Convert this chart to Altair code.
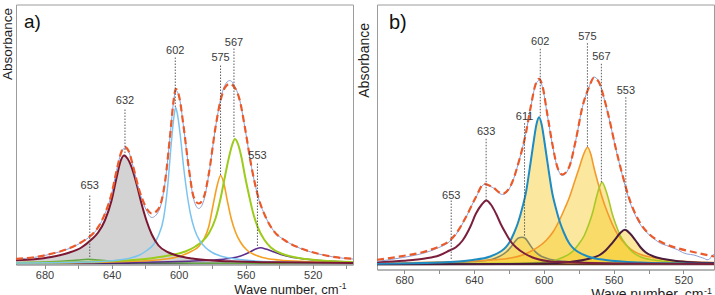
import altair as alt
import pandas as pd

FONT = "Liberation Sans"

# ---------------- panel a) ----------------
A_X_DOMAIN = [697, 496]
A_Y_DOMAIN = [-1, 259]
A_TICKS = [680, 660, 640, 620, 600, 580, 560, 540, 520, 500]

A_WN = [697, 686, 676, 666, 658, 654, 648, 644, 640, 637,
        634, 632, 630, 627, 624, 620, 616, 612, 608, 605,
        603, 601.7, 599.6, 597, 594, 591, 588, 585, 582, 578,
        575, 572.5, 569.5, 566.5, 563.5, 560.5, 556.5, 552.5, 548.5, 543.5,
        536.5, 526.5, 516.5, 506.5, 496]
A_FIT = [4.7, 6.3, 9.7, 14.7, 21.3, 25.7, 36.3, 49.7, 69.7, 93,
         112.3, 116.3, 113, 96.3, 76.3, 58, 50, 54.7, 83, 129.7,
         163, 174.7, 166.3, 136.3, 96.3, 66.3, 60, 66.3, 89.7, 136.3,
         163, 175.7, 179.7, 175.7, 163, 136.3, 96.3, 66.3, 48, 33,
         23, 14.7, 9.7, 6.3, 4.7]
A_MEAS = [4.5, 6.1, 9.5, 14.5, 21, 25.5, 36, 49.5, 69.5, 93,
          112, 115.5, 112.5, 96, 75.5, 56, 46, 52, 82, 129,
          162, 173, 166, 136, 96, 64, 55, 63, 89, 136,
          164, 178, 183, 177, 163, 136, 96, 66, 48, 33,
          23, 14.5, 9.5, 6.2, 4.5]

A_653_WN = [697, 680, 668, 660, 654, 648, 640, 630, 615, 590, 550, 496]
A_653 = [0.8, 1.5, 2.5, 3.6, 4.3, 3.6, 2.3, 1.3, 0.7, 0.3, 0.1, 0.0]

A_632_WN = [697, 686, 676, 666, 658, 652, 648, 644, 640, 637, 634.5, 632.5, 630.5,
            628, 625, 622, 619, 616, 612, 606, 600, 592, 580, 565, 540, 496]
A_632 = [3.2, 4.3, 6.5, 10.5, 16, 24, 31, 43, 63, 86, 103, 108, 105,
         96, 79, 59, 42, 29, 18, 11, 7.5, 5, 3, 2, 1.2, 0.5]

A_602_WN = [697, 660, 640, 630, 624, 619, 615, 612, 609, 606.5, 604.5, 602.7, 601.8, 600.8,
            599, 597, 595, 593, 590.5, 587.5, 584, 580, 574, 566, 550, 530, 496]
A_602 = [0.5, 1.2, 2.8, 5, 8, 13, 19, 28, 45, 78, 118, 148, 156, 150,
         128, 96, 70, 50, 34, 23, 16, 11, 7, 4.5, 2, 1, 0.5]

A_575_WN = [697, 640, 610, 598, 592, 588, 585, 582, 579.5, 577, 575, 573, 571, 568.5,
            566, 563, 559, 555, 550, 540, 525, 496]
A_575 = [0.3, 1.5, 4, 8, 12.5, 17, 24, 37, 58, 78, 88, 80, 63, 44,
         31, 21, 13, 9, 6, 3.5, 2, 1]

A_567_WN = [697, 640, 620, 606, 596, 590, 586, 582, 578, 575, 572.5, 570, 568, 566.4,
            564.5, 562.5, 560.5, 558, 555.5, 552.5, 549, 545, 538, 530, 515, 496]
A_567 = [0.5, 2.5, 4.5, 8, 12, 17, 22, 30, 45, 65, 86, 106, 119, 124.5,
         119, 106, 88, 68, 50, 35, 24, 16, 9.5, 6, 3, 1.5]

A_553_WN = [697, 640, 600, 580, 570, 563, 558, 554, 551, 548, 544, 539, 533, 525, 512, 496]
A_553 = [0.3, 1, 2, 3.5, 5, 7.5, 11, 14.5, 15.7, 14.5, 12, 9, 6.5, 4.5, 2.5, 1.5]

A_PEAK_WN = [653, 632, 602, 575, 567, 553]
A_PEAK_TEXT_H = [78, 163, 213, 206, 221, 108]
A_PEAK_TOP = [68, 154, 206, 198, 215, 100]
A_PEAK_BOTTOM = [5, 108, 156, 88, 125, 16]

# ---------------- panel b) ----------------
B_X_DOMAIN = [695.5, 502.5]
B_Y_DOMAIN = [-5, 260]
B_TICKS = [680, 660, 640, 620, 600, 580, 560, 540, 520]

B_FIT_WN = [695.5, 679, 669.5, 660, 655, 650.3, 644.6, 638.9, 634.1, 629.3,
            623.6, 618.9, 614.1, 610.3, 607.5, 604.6, 602.7, 600.8, 598, 595.1,
            592.2, 589.4, 585.5, 581.7, 577.9, 574.1, 571.3, 568.4, 565.6, 562.7,
            558.9, 555.1, 551.3, 545.6, 539.8, 532.2, 522.7, 513.1, 502.5]
B_FIT = [4.7, 9, 12.3, 18, 22.3, 30.7, 47.3, 67.3, 80.7, 77.3,
         70.7, 79, 104, 130.7, 157.3, 180.7, 185.7, 179, 150.7, 120.7,
         97.3, 90, 97.3, 124, 157.3, 177.3, 186.7, 182.3, 167.3, 147.3,
         117.3, 90.7, 67.3, 44, 30.7, 22, 16, 12, 8]

B_MEAS_WN = [695.5, 679, 669.5, 660, 655, 650.3, 644.6, 638.9, 634.1, 629.3,
             623.6, 618.9, 614.1, 610.3, 607.5, 604.6, 602.7, 600.8, 598, 595.1,
             592.2, 589.4, 585.5, 581.7, 577.9, 574.1, 571.3, 568.4, 565.6, 562.7,
             558.9, 555.1, 551.3, 545.6, 541, 537, 533, 529.6, 526, 523.6,
             520.5, 517.9, 514, 510.3, 508, 506.5, 505, 503.6, 502.5]
B_MEAS = [3, 7.5, 11, 17, 21.5, 30, 47, 67, 80, 77,
          70, 78.5, 104, 131, 157, 180, 184, 178, 150, 120,
          97, 89, 97, 124, 157, 177.5, 187.5, 183, 167, 147,
          117, 90, 66, 42.5, 32, 26, 21, 19, 16.5, 15,
          12, 10.5, 9.5, 7.3, 6, 4.7, 5.5, 9, 10]

B_633_WN = [695.5, 680, 668, 660, 654, 650.3, 646.5, 642, 638.9, 635.5, 632.9, 630.3,
            627.3, 624.5, 621.6, 618.5, 615.9, 611, 606.4, 598, 585, 560, 502.5]
B_633 = [2.5, 3.8, 6, 9, 14, 17.3, 24, 38, 50.7, 60, 64, 60,
         50.7, 40, 30.7, 22, 17.3, 11, 7, 3.5, 2, 1, 0.5]

B_611_WN = [695.5, 660, 640, 630, 625.5, 621.5, 619, 616.5, 614.5, 612.5, 610.5,
            608.4, 606, 603, 598, 590, 575, 550, 502.5]
B_611 = [0.5, 1.5, 3, 5, 8, 12.5, 17, 23, 26.5, 27.3, 26,
         21, 15, 10, 6, 3.5, 2, 1, 0.5]

B_602_WN = [695.5, 660.7, 640.7, 630.7, 624.7, 621.7, 619.7, 616.9, 614.7, 612.2,
            610.2, 608.5, 607.2, 605.7, 604.2, 602.7, 601.2, 599.7, 598.2, 596.9,
            595.2, 593.2, 590.7, 588.5, 585.7, 583.7, 580.7, 574.7, 564.7, 544.7,
            510.7, 502.5]
B_602 = [0.8, 2, 4.5, 8, 13, 17.3, 22, 32, 42, 57.3,
         72, 90.7, 106, 124, 140, 147.3, 140, 124, 106, 90.7,
         72, 57.3, 42, 32, 22, 17.3, 13, 8, 4.5, 2,
         0.8, 0.7]

B_575_WN = [695.5, 660, 640, 621.6, 608.4, 598.7, 594.5, 591.1, 588, 585.3,
            582.5, 579.6, 577.2, 574.9, 573, 571.3, 569, 566.6, 563.5, 560.8,
            558, 555.1, 550, 545.6, 536, 526.6, 515, 502.5]
B_575 = [1, 2.5, 3.5, 5.7, 12.3, 24, 33, 44, 56, 67.3,
         82, 97.3, 110, 117.3, 110, 97.3, 82, 67.3, 52, 40.7,
         31, 24, 15, 10.7, 6.5, 4, 2.8, 2]

B_567_WN = [695.5, 620, 600, 589.3, 583.5, 579.8, 576.8, 574.1, 572, 570.3, 568.4, 566.6,
            564.8, 562.7, 561, 558.9, 556.2, 553.2, 549.5, 543.7, 535, 526.6, 502.5]
B_567 = [0.3, 1.2, 2.3, 7, 13, 20.7, 29, 40.7, 52, 64, 76, 82.3,
         76, 64, 52, 40.7, 29, 20.7, 13, 7, 4, 2.3, 1]

B_553_WN = [695.5, 620, 600, 585, 574.1, 568, 564.6, 561.5, 558.9, 556.2, 553.5,
            550.6, 547.4, 544.5, 541.7, 537, 532.2, 525, 515, 502.5]
B_553 = [0.2, 0.6, 1, 2.5, 5.7, 9.5, 14, 20, 25.7, 31.5, 34.7,
         31, 24, 17, 12.3, 8, 5.7, 3.8, 2.3, 1.5]

B_PEAK_WN = [653, 633, 611, 602, 575, 567, 553]
B_PEAK_TEXT_H = [69, 132.3, 148, 222.3, 228, 207.3, 174]
B_PEAK_TOP = [64, 125.7, 141.3, 215.7, 221.3, 200.7, 167.3]
B_PEAK_BOTTOM = [4, 64, 27.3, 147.3, 117.3, 82.3, 34.7]

PANEL_W = 337


def curve(wn, h):
    return pd.DataFrame({"wn": wn, "h": h})


def encodings(x_dom, y_dom, ticks, title_x, title_y, title_size, abs_x, abs_y, abs_size):
    x = alt.X(
        "wn:Q",
        scale=alt.Scale(domain=x_dom, nice=False, zero=False),
        axis=alt.Axis(
            values=ticks,
            labelExpr="datum.value % 40 == 0 ? datum.label : ''",
            grid=False, tickSize=4, tickColor="#8c8c8c", domainColor="#9c9c9c",
            labelFont=FONT, labelFontSize=11, labelColor="#3c3c3c", labelPadding=1,
            title="Wave number, cm", titleFont=FONT, titleFontSize=title_size,
            titleFontWeight="normal", titleColor="#1e1e1e", titleAlign="right",
            titleBaseline="alphabetic", titleX=title_x, titleY=title_y,
        ),
    )
    y = alt.Y(
        "h:Q",
        scale=alt.Scale(domain=y_dom, nice=False, zero=False),
        axis=alt.Axis(
            labels=False, ticks=False, domain=False, grid=False,
            title="Absorbance", titleFont=FONT, titleFontSize=abs_size,
            titleFontWeight="normal", titleColor="#1e1e1e", titleAngle=270,
            titleAlign="right", titleBaseline="middle", titleX=abs_x, titleY=abs_y,
        ),
    )
    return x, y


def line(df, x, y, color, width, dash=None):
    kw = dict(color=color, strokeWidth=width, interpolate="monotone", clip=True)
    if dash:
        kw["strokeDash"] = dash
    return alt.Chart(df).mark_line(**kw).encode(x=x, y=y)


def fill(df, x, y, color, opacity):
    return alt.Chart(df).mark_area(
        color=color, opacity=opacity, interpolate="monotone", clip=True
    ).encode(x=x, y=y, y2=alt.datum(0))


def peak_marks(wn, text_h, top, bottom, x, y, size):
    lab = pd.DataFrame({"wn": wn, "h": text_h, "t": [str(v) for v in wn]})
    rules = pd.DataFrame({"wn": wn, "h": top, "h2": bottom})
    r = alt.Chart(rules).mark_rule(
        color="#4a4a4a", strokeWidth=0.9, strokeDash=[1.5, 1.5]
    ).encode(x=x, y=y, y2="h2:Q")
    t = alt.Chart(lab).mark_text(
        font=FONT, fontSize=size, color="#3a3a3a", baseline="middle", align="center"
    ).encode(x=x, y=y, text="t:N")
    return [r, t]


def note(text, px, py, size, color="#111111"):
    return alt.Chart(pd.DataFrame({"t": [text]})).mark_text(
        font=FONT, fontSize=size, color=color, align="left", baseline="alphabetic"
    ).encode(text="t:N", x=alt.value(px), y=alt.value(py))


# ---- panel a) ----
xa, ya = encodings(A_X_DOMAIN, A_Y_DOMAIN, A_TICKS, 322, 29, 13, -8.25, 3, 13.5)
layers_a = [
    fill(curve(A_632_WN, A_632), xa, ya, "#d3d3d3", 1.0),
    line(curve([A_X_DOMAIN[0], A_X_DOMAIN[1]], [0, 0]), xa, ya, "#3d2b63", 1.5),
    line(curve(A_653_WN, A_653), xa, ya, "#63a545", 1.5),
    line(curve(A_553_WN, A_553), xa, ya, "#5c2d8c", 1.6),
    line(curve(A_575_WN, A_575), xa, ya, "#f6a023", 1.6),
    line(curve(A_567_WN, A_567), xa, ya, "#9ccb1c", 2),
    line(curve(A_602_WN, A_602), xa, ya, "#7cc4f0", 1.5),
    line(curve(A_632_WN, A_632), xa, ya, "#7b1733", 2),
    line(curve(A_WN, A_MEAS), xa, ya, "#8e9fd6", 1),
    line(curve(A_WN, A_FIT), xa, ya, "#ea5a2b", 2.2, [7, 4]),
    *peak_marks(A_PEAK_WN, A_PEAK_TEXT_H, A_PEAK_TOP, A_PEAK_BOTTOM, xa, ya, 11),
    note("a)", 8, 23.5, 19),
    note("-1", 323, 284, 8.5, "#1e1e1e"),
]
panel_a = alt.layer(*layers_a).properties(width=PANEL_W, height=260)

# ---- panel b) ----
xb, yb = encodings(B_X_DOMAIN, B_Y_DOMAIN, B_TICKS, 326, 28.5, 14, -13, 18, 14)
GOLD = "#f7cb28"
layers_b = [
    fill(curve(B_611_WN, B_611), xb, yb, GOLD, 0.45),
    fill(curve(B_602_WN, B_602), xb, yb, GOLD, 0.45),
    fill(curve(B_575_WN, B_575), xb, yb, GOLD, 0.45),
    fill(curve(B_567_WN, B_567), xb, yb, GOLD, 0.45),
    fill(curve(B_553_WN, B_553), xb, yb, GOLD, 0.45),
    line(curve([B_X_DOMAIN[0], B_X_DOMAIN[1]], [0, 0]), xb, yb, "#5b3a24", 1.5),
    line(curve(B_611_WN, B_611), xb, yb, "#8a8a62", 1.6),
    line(curve(B_575_WN, B_575), xb, yb, "#f39a2c", 1.6),
    line(curve(B_567_WN, B_567), xb, yb, "#a8c82a", 1.6),
    line(curve(B_553_WN, B_553), xb, yb, "#4a1c3e", 2),
    line(curve(B_602_WN, B_602), xb, yb, "#1e8cc2", 2),
    line(curve(B_633_WN, B_633), xb, yb, "#7b1f3d", 2),
    line(curve(B_MEAS_WN, B_MEAS), xb, yb, "#8e9fd6", 1),
    line(curve(B_FIT_WN, B_FIT), xb, yb, "#ea5a2b", 2.2, [7, 4]),
    *peak_marks(B_PEAK_WN, B_PEAK_TEXT_H, B_PEAK_TOP, B_PEAK_BOTTOM, xb, yb, 11),
    note("b)", 12, 24.3, 20),
    note("-1", 327, 289.5, 9, "#1e1e1e"),
]
panel_b = alt.layer(*layers_b).properties(width=PANEL_W, height=265)

chart = alt.hconcat(panel_a, panel_b, spacing=24, bounds="flush").properties(
    padding={"left": 0, "top": 3.5, "right": 0, "bottom": 0},
    background="white",
).configure_view(stroke="#9c9c9c", strokeWidth=1)

chart.save("out.html", embed_options={"renderer": "svg", "actions": False})
